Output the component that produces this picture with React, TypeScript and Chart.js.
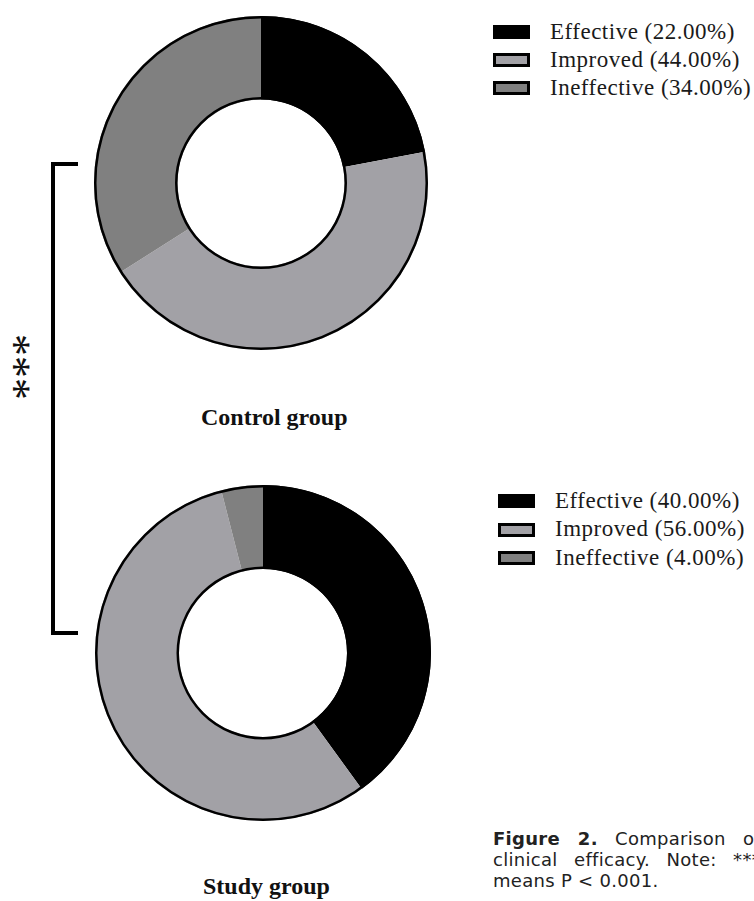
import React, { useEffect, useRef } from "react";
import { Chart, registerables } from "chart.js";

Chart.register(...registerables);

const categories = ["Effective", "Improved", "Ineffective"];
const controlValues = [22, 44, 34];
const studyValues = [40, 56, 4];
const groupTitles = ["Control group", "Study group"];
const segmentColors = ["#000000", "#a2a1a6", "#808080"];

const SERIF = "'Liberation Serif', 'Times New Roman', Times, serif";

const ringOutline = {
  id: "ringOutline",
  afterDatasetsDraw(chart: any) {
    const meta = chart.getDatasetMeta(0);
    const arc = meta.data[0];
    if (!arc) return;
    const p = arc.getProps(["x", "y", "innerRadius", "outerRadius"], true);
    const ctx = chart.ctx;
    ctx.save();
    ctx.strokeStyle = "#000";
    ctx.lineWidth = 2.5;
    ctx.beginPath();
    ctx.arc(p.x, p.y, p.outerRadius - 1.25, 0, Math.PI * 2);
    ctx.stroke();
    ctx.beginPath();
    ctx.arc(p.x, p.y, p.innerRadius + 1.25, 0, Math.PI * 2);
    ctx.stroke();
    ctx.restore();
  },
};

function Donut({ values, size, left, top }: { values: number[]; size: number; left: number; top: number }) {
  const ref = useRef<HTMLCanvasElement>(null);
  useEffect(() => {
    if (!ref.current) return;
    const chart = new Chart(ref.current, {
      type: "doughnut",
      data: {
        labels: categories,
        datasets: [
          {
            data: values,
            backgroundColor: segmentColors,
            borderWidth: 0,
            hoverOffset: 0,
          },
        ],
      },
      options: {
        responsive: false,
        animation: false,
        cutout: "50%",
        layout: { padding: 0 },
        plugins: { legend: { display: false }, tooltip: { enabled: false } },
        events: [],
      },
      plugins: [ringOutline],
    });
    return () => chart.destroy();
  }, []);
  return (
    <canvas
      ref={ref}
      width={size}
      height={size}
      style={{ position: "absolute", left, top, width: size, height: size }}
    />
  );
}

function Legend({ values, boxLeft, textLeft, centers }: { values: number[]; boxLeft: number; textLeft: number; centers: number[] }) {
  return (
    <>
      {categories.map((c, i) => (
        <React.Fragment key={c}>
          <div
            style={{
              position: "absolute",
              left: boxLeft,
              top: centers[i] - 7,
              width: 37,
              height: 14,
              boxSizing: "border-box",
              border: "3px solid #000",
              background: segmentColors[i],
            }}
          />
          <div
            style={{
              position: "absolute",
              left: textLeft,
              top: centers[i] - 13.5,
              fontFamily: SERIF,
              fontSize: 23,
              lineHeight: "26px",
              letterSpacing: 0.5,
              whiteSpace: "nowrap",
              color: "#1a1a1a",
            }}
          >
            {`${c} (${values[i].toFixed(2)}%)`}
          </div>
        </React.Fragment>
      ))}
    </>
  );
}

export default function App() {
  const title = {
    position: "absolute" as const,
    fontFamily: SERIF,
    fontWeight: "bold" as const,
    fontSize: 24,
    lineHeight: "24px",
    whiteSpace: "nowrap" as const,
    color: "#111",
  };
  const cap = {
    position: "absolute" as const,
    left: 493,
    width: 268,
    fontFamily: "'DejaVu Sans', sans-serif",
    fontSize: 18,
    lineHeight: "21px",
    letterSpacing: 0.3,
    whiteSpace: "nowrap" as const,
    color: "#222",
  };
  return (
    <div
      style={{
        position: "absolute",
        left: 0,
        top: 0,
        width: 754,
        height: 901,
        overflow: "hidden",
        background: "#fff",
      }}
    >
      <Donut values={controlValues} size={334} left={94} top={16} />
      <Donut values={studyValues} size={336} left={95} top={485} />

      <Legend values={controlValues} boxLeft={493} textLeft={550} centers={[32, 60, 88]} />
      <Legend values={studyValues} boxLeft={498} textLeft={555} centers={[501, 529.5, 558]} />

      <div style={{ ...title, left: 201, top: 405 }}>{groupTitles[0]}</div>
      <div style={{ ...title, left: 203, top: 874 }}>{groupTitles[1]}</div>

      {/* significance bracket */}
      <div style={{ position: "absolute", left: 51, top: 162, width: 4, height: 473, background: "#000" }} />
      <div style={{ position: "absolute", left: 51, top: 162, width: 27, height: 4, background: "#000" }} />
      <div style={{ position: "absolute", left: 51, top: 631, width: 27, height: 4, background: "#000" }} />
      <div style={{ position: "absolute", left: 28, top: 367, width: 0, height: 0 }}>
        <div
          style={{
            position: "absolute",
            left: 0,
            top: 0,
            transform: "translate(-50%, -50%) rotate(-90deg)",
            fontFamily: SERIF,
            fontSize: 44,
            lineHeight: "44px",
            whiteSpace: "nowrap",
            color: "#111",
          }}
        >
          ***
        </div>
      </div>

      {/* caption */}
      <div style={{ ...cap, top: 828, textAlign: "justify", textAlignLast: "justify" as any }}>
        <b>Figure 2.</b> Comparison of
      </div>
      <div style={{ ...cap, top: 849, textAlign: "justify", textAlignLast: "justify" as any }}>
        clinical efficacy. Note: ***
      </div>
      <div style={{ ...cap, top: 870 }}>means P &lt; 0.001.</div>
    </div>
  );
}
